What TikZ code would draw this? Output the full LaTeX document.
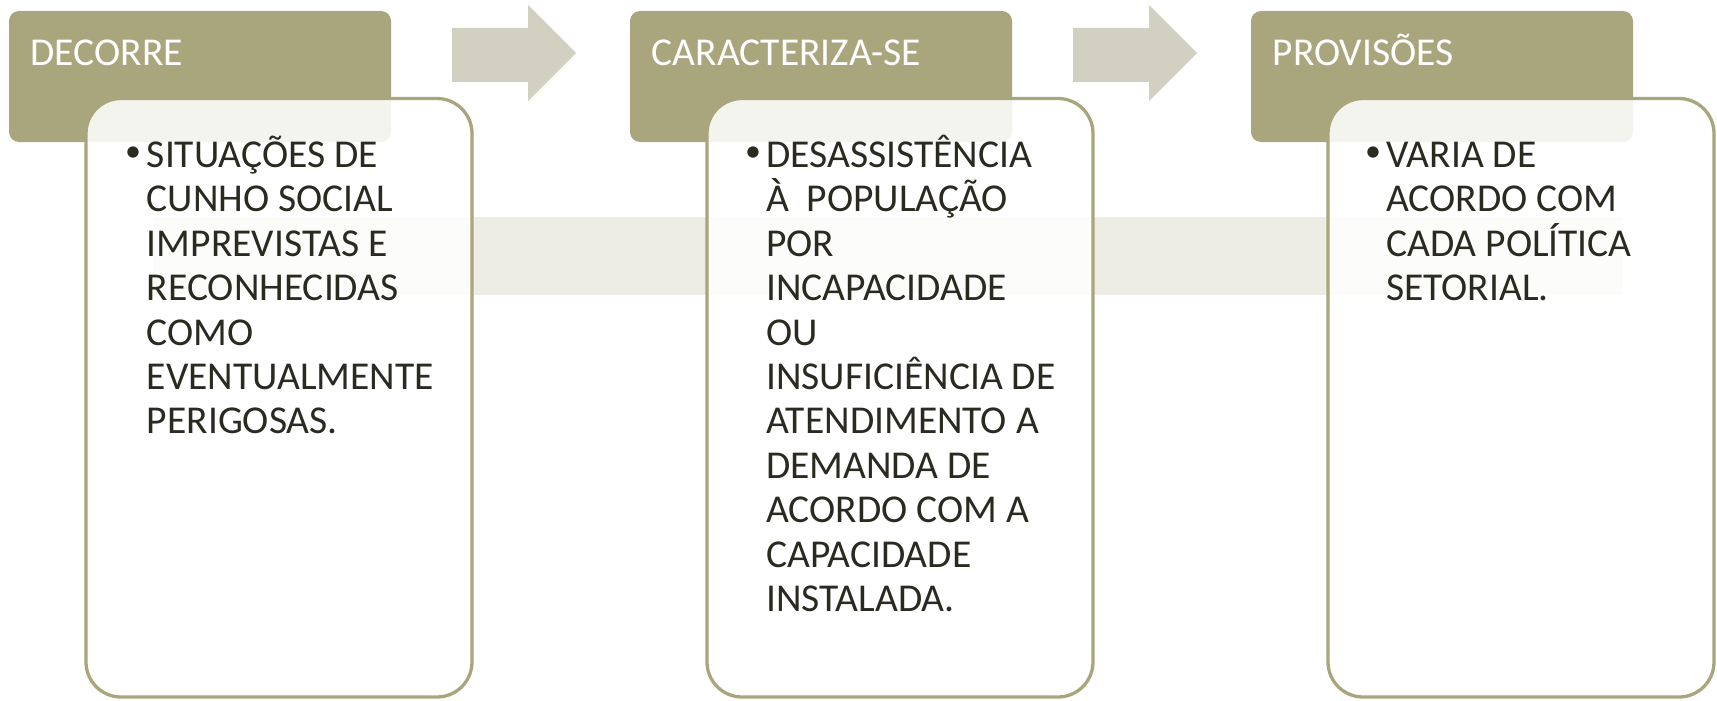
\documentclass[tikz,border=0pt]{standalone}
\usepackage{fontspec}
\setmainfont{Carlito}
\definecolor{olive}{HTML}{A9A67E}
\definecolor{arrowc}{HTML}{D1D0C1}
\definecolor{bandc}{HTML}{EDECE5}
\definecolor{txt}{HTML}{2B2A20}
\newcommand{\lines}[1]{\vtop{\baselineskip=44.4pt\lineskiplimit=-100pt #1}}
\begin{document}
\begin{tikzpicture}[x=1pt,y=-1pt,
  headbox/.style={fill=olive, rounded corners=10pt},
  bodybox/.style={draw=olive, line width=3.3pt, fill=white, fill opacity=0.88, rounded corners=35pt},
  arrowshape/.style={fill=arrowc},
  headtext/.style={anchor=base west, inner sep=0pt, text=white, font=\fontsize{39.5}{44.4}\selectfont},
  bodytext/.style={anchor=base west, inner sep=0pt, text=txt, font=\fontsize{39.5}{44.4}\selectfont},
  bulletc/.style={anchor=center, inner sep=0pt, text=txt, font=\fontsize{32}{34}\selectfont}]
\useasboundingbox (0,0) rectangle (1717,701);
% band
\fill[bandc] (153,217) rectangle (1623,295);
% arrows
\foreach \i in {0,1} {
  \fill[arrowc] ({452+621*\i},28) -- ({528+621*\i},28) -- ({528+621*\i},5) -- ({576+621*\i},53) -- ({528+621*\i},101) -- ({528+621*\i},82) -- ({452+621*\i},82) -- cycle;
}
% headers
\foreach \i/\nm in {0/h1,1/h2,2/h3} {
  \path[headbox] ({9+621*\i},11) rectangle ({391+621*\i},142);
  \coordinate (\nm) at ({9+621*\i},11);
}
% bodies
\foreach \i/\nm in {0/b1,1/b2,2/b3} {
  \path[bodybox] ({86+621*\i},98.5) rectangle ({472+621*\i},697);
  \coordinate (\nm) at ({86+621*\i},98.5);
}
% header texts
\node[headtext] (ht1) at (30.5,65.7) {DECORRE};
\node[headtext] (ht2) at (651.5,65.7) {CARACTERIZA-SE};
\node[headtext] (ht3) at (1272.5,65.7) {PROVISÕES};
% bullets
\node[bulletc] (u1) at (133,154) {•};
\node[bulletc] (u2) at (753,154) {•};
\node[bulletc] (u3) at (1373,154) {•};
% body texts
\node[bodytext] (t1) at (146.7,167.5) {\lines{\hbox{SITUAÇÕES DE}\hbox{CUNHO SOCIAL}\hbox{IMPREVISTAS E}\hbox{RECONHECIDAS}\hbox{COMO}\hbox{EVENTUALMENTE}\hbox{PERIGOSAS.}}};
\node[bodytext] (t2) at (766,167.5) {\lines{\hbox{DESASSISTÊNCIA}\hbox{À\ \ POPULAÇÃO}\hbox{POR}\hbox{INCAPACIDADE}\hbox{OU}\hbox{INSUFICIÊNCIA DE}\hbox{ATENDIMENTO A}\hbox{DEMANDA DE}\hbox{ACORDO COM A}\hbox{CAPACIDADE}\hbox{INSTALADA.}}};
\node[bodytext] (t3) at (1386,167.5) {\lines{\hbox{VARIA DE}\hbox{ACORDO COM}\hbox{CADA POLÍTICA}\hbox{SETORIAL.}}};
\end{tikzpicture}
\end{document}
